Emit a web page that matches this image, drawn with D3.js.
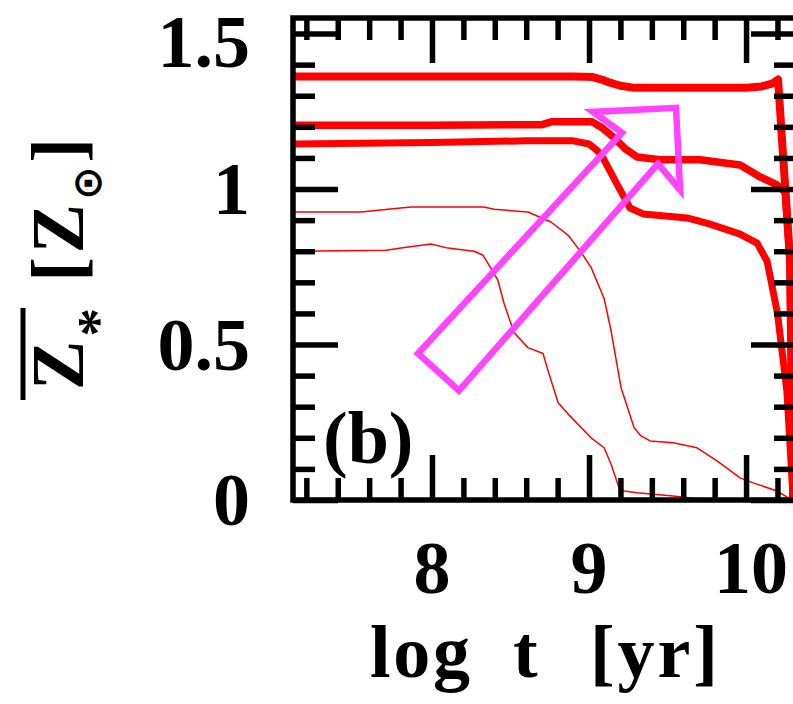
<!DOCTYPE html>
<html>
<head>
<meta charset="utf-8">
<script src="https://cdn.jsdelivr.net/npm/d3@7"></script>
<style>
  html, body { margin: 0; padding: 0; background: #fff; }
  svg { display: block; }
  text { font-family: "Liberation Serif", "Times New Roman", serif; font-weight: bold; fill: #000; }
</style>
</head>
<body>
<svg id="chart" width="793" height="704"></svg>
<script>
// ---------------- data ----------------
// log t [yr] and mean stellar metallicity [Zsun] for each model track
const t1 = [7.115, 7.5, 8.0, 8.5, 8.9, 9.025, 9.08, 9.134, 9.2, 9.28, 9.5, 9.8, 10.0, 10.1, 10.17, 10.204, 10.23, 10.25, 10.28, 10.3];
const z1 = [1.362, 1.362, 1.362, 1.362, 1.362, 1.36, 1.352, 1.342, 1.332, 1.326, 1.326, 1.326, 1.326, 1.33, 1.34, 1.352, 1.15, 1.0, 0.77, 0.0];

const t2 = [7.115, 8.0, 8.7, 8.76, 9.02, 9.08, 9.153, 9.23, 9.306, 9.452, 9.707, 9.962, 10.09, 10.197, 10.25, 10.28, 10.3];
const z2 = [1.205, 1.205, 1.207, 1.216, 1.216, 1.198, 1.168, 1.13, 1.103, 1.094, 1.094, 1.077, 1.039, 1.013, 0.99, 0.77, 0.0];

const t3 = [7.115, 8.0, 8.6, 8.9, 9.0, 9.05, 9.089, 9.178, 9.261, 9.344, 9.624, 9.771, 9.962, 10.07, 10.134, 10.2, 10.26, 10.3];
const z3 = [1.145, 1.15, 1.155, 1.155, 1.145, 1.125, 1.10, 1.016, 0.939, 0.920, 0.907, 0.887, 0.855, 0.826, 0.768, 0.6, 0.35, 0.0];

const t4 = [7.115, 7.548, 7.72, 7.866, 8.331, 8.395, 8.611, 8.758, 8.866, 8.949, 9.013, 9.096, 9.140, 9.204, 9.287, 9.331, 9.389, 9.535, 9.688, 9.815, 9.962, 10.045, 10.197, 10.26, 10.3];
const z4 = [0.926, 0.926, 0.935, 0.942, 0.942, 0.935, 0.926, 0.894, 0.852, 0.797, 0.748, 0.648, 0.545, 0.361, 0.232, 0.206, 0.190, 0.184, 0.168, 0.126, 0.071, 0.055, 0.029, 0.01, 0.0];

const t5 = [7.115, 7.707, 7.803, 7.994, 8.102, 8.268, 8.325, 8.376, 8.420, 8.459, 8.522, 8.611, 8.707, 8.739, 8.803, 8.866, 9.013, 9.096, 9.14, 9.191, 9.223, 9.306, 9.535, 9.662, 9.771, 9.9];
const z5 = [0.80, 0.803, 0.81, 0.823, 0.81, 0.80, 0.787, 0.745, 0.706, 0.632, 0.539, 0.490, 0.471, 0.416, 0.313, 0.277, 0.2, 0.168, 0.116, 0.039, 0.029, 0.023, 0.013, 0.006, 0.003, 0.0];

// annotation arrow outline (data coordinates)
const arrowT = [7.911, 9.210, 9.025, 9.554, 9.580, 9.439, 8.172];
const arrowZ = [0.471, 1.181, 1.248, 1.261, 0.997, 1.081, 0.352];

// ticks
const xMajorTicks = [8, 9, 10];
const xTickLabels = ["8", "9", "10"];
const xMinorTicks = [7.2, 7.4, 7.6, 7.8, 8.2, 8.4, 8.6, 8.8, 9.2, 9.4, 9.6, 9.8, 10.2];
const yMajorTicks = [0, 0.5, 1, 1.5];
const yTickLabels = ["0", "0.5", "1", "1.5"];
const yMinorTicks = [0.1, 0.2, 0.3, 0.4, 0.6, 0.7, 0.8, 0.9, 1.1, 1.2, 1.3, 1.4];

// ---------------- chart ----------------
const svg = d3.select("#chart");
const x = d3.scaleLinear().domain([7.115, 10.318]).range([293, 796]);
const y = d3.scaleLinear().domain([0, 1.55]).range([500, 18]);

const series = [
  {t: t1, z: z1, w: 8},
  {t: t2, z: z2, w: 7.5},
  {t: t3, z: z3, w: 7},
  {t: t4, z: z4, w: 1.5},
  {t: t5, z: z5, w: 1.5}
];

const line = d3.line().x(d => x(d[0])).y(d => y(d[1]));

svg.append("defs").append("clipPath").attr("id", "plotclip")
  .append("rect").attr("x", x.range()[0]).attr("y", y.range()[1])
  .attr("width", x.range()[1] - x.range()[0]).attr("height", y.range()[0] - y.range()[1]);

const plot = svg.append("g").attr("clip-path", "url(#plotclip)");
series.forEach(s => {
  plot.append("path")
    .datum(s.t.map((v, i) => [v, s.z[i]]))
    .attr("d", line)
    .attr("fill", "none")
    .attr("stroke", "#ff0000")
    .attr("stroke-width", s.w)
    .attr("stroke-linejoin", "round");
});

// arrow annotation
plot.append("path")
  .datum(arrowT.map((v, i) => [v, arrowZ[i]]))
  .attr("d", d3.line().x(d => x(d[0])).y(d => y(d[1])).curve(d3.curveLinearClosed))
  .attr("fill", "none")
  .attr("stroke", "#ff44ff")
  .attr("stroke-width", 6.5)
  .attr("stroke-linejoin", "miter");

// axes ticks (inward on all four sides)
function styleAxis(g) {
  g.select(".domain").remove();
  g.selectAll(".tick line").attr("stroke", "#000").attr("stroke-width", 5.5);
  g.selectAll(".tick text").remove();
}
const [x0, x1] = x.range();
const [yb, yt] = y.range();
[[xMajorTicks, 45], [xMinorTicks, 22]].forEach(([vals, len]) => {
  svg.append("g").attr("transform", `translate(0,${yb})`)
    .call(d3.axisBottom(x).tickValues(vals).tickSize(-len).tickFormat("")).call(styleAxis);
  svg.append("g").attr("transform", `translate(0,${yt})`)
    .call(d3.axisTop(x).tickValues(vals).tickSize(-len).tickFormat("")).call(styleAxis);
});
[[yMajorTicks, 45], [yMinorTicks, 22]].forEach(([vals, len]) => {
  svg.append("g").attr("transform", `translate(${x0},0)`)
    .call(d3.axisLeft(y).tickValues(vals).tickSize(-len).tickFormat("")).call(styleAxis);
  svg.append("g").attr("transform", `translate(${x1},0)`)
    .call(d3.axisRight(y).tickValues(vals).tickSize(-len).tickFormat("")).call(styleAxis);
});

// frame
svg.append("rect")
  .attr("x", x0).attr("y", yt).attr("width", x1 - x0).attr("height", yb - yt)
  .attr("fill", "none").attr("stroke", "#000").attr("stroke-width", 5.5);

// tick labels
const FS = 74;
svg.append("g").selectAll("text").data(yMajorTicks).join("text")
  .attr("x", 250).attr("y", d => Math.max(y(d) + 25, FS * 0.9))
  .attr("text-anchor", "end").attr("font-size", FS)
  .text((d, i) => yTickLabels[i]);

svg.append("g").selectAll("text").data(xMajorTicks).join("text")
  .attr("x", d => x(d) + (d === 10 ? 5 : 0)).attr("y", 593)
  .attr("text-anchor", "middle").attr("font-size", FS)
  .text((d, i) => xTickLabels[i]);

// x axis title
const xt = svg.append("text").attr("y", 677).attr("font-size", FS);
xt.append("tspan").attr("x", 370).attr("textLength", 100).attr("lengthAdjust", "spacing").text("log");
xt.append("tspan").attr("x", 513).text("t");
xt.append("tspan").attr("x", 590).attr("textLength", 128).attr("lengthAdjust", "spacing").text("[yr]");

// y axis title (rotated)
const yt_g = svg.append("g").attr("transform", "translate(83,390) rotate(-90)");
const ytxt = yt_g.append("text").attr("x", 0).attr("y", 0).attr("font-size", FS)
  .attr("textLength", 252).attr("lengthAdjust", "spacing");
ytxt.append("tspan").text("Z");
ytxt.append("tspan").attr("font-size", 58).attr("dy", 34).text("*");
ytxt.append("tspan").attr("dy", -34).text(" [Z");
ytxt.append("tspan").attr("font-size", 40).attr("dy", 18)
  .style("font-family", "DejaVu Sans").text("\u2299");
ytxt.append("tspan").attr("dy", -18).text("]");
yt_g.append("line").attr("x1", -10).attr("x2", 82).attr("y1", -60).attr("y2", -60)
  .attr("stroke", "#000").attr("stroke-width", 5);

// panel label
svg.append("text").attr("x", 323).attr("y", 463).attr("font-size", FS).text("(b)");
</script>
</body>
</html>
